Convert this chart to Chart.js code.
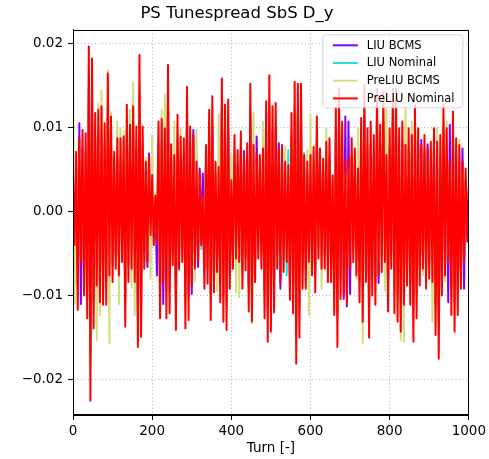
<!DOCTYPE html>
<html><head><meta charset="utf-8">
<script src="https://cdn.jsdelivr.net/npm/chart.js@4/dist/chart.umd.min.js"></script>
<style>html,body{margin:0;padding:0;background:#fff;}</style>
</head><body>
<canvas id="c" width="489" height="459"></canvas>
<script>
// Turn index (every 4th turn sampled)
const turns = Array.from({length: 251}, (_, i) => i * 4);
const seriesNames = ['LIU BCMS', 'LIU Nominal', 'PreLIU BCMS', 'PreLIU Nominal'];
const seriesColors = ['#8000ff', '#2bdddd', '#d4dd80', '#ff0000'];
const yTickValues = [-0.02, -0.01, 0.0, 0.01, 0.02];
const xTickStep = 200;

const liuBcms = [
0.0032,-0.0030,0.0053,-0.0088,0.0105,-0.0110,0.0073,-0.0075,0.0070,-0.0095,0.0147,-0.0169,0.0137,-0.0104,0.0088,-0.0066,0.0091,-0.0081,0.0094,-0.0083,0.0079,-0.0083,0.0123,-0.0057,0.0085,
-0.0063,0.0053,-0.0051,0.0065,-0.0057,0.0065,-0.0045,0.0067,-0.0103,0.0095,-0.0063,0.0077,-0.0051,0.0094,-0.0063,0.0076,-0.0121,0.0140,-0.0112,0.0076,-0.0051,0.0044,-0.0066,0.0069,-0.0021,
0.0032,-0.0030,0.0014,-0.0076,0.0080,-0.0095,0.0083,-0.0110,0.0105,-0.0095,0.0131,-0.0091,0.0060,-0.0048,0.0050,-0.0106,0.0086,-0.0051,0.0067,-0.0045,0.0065,-0.0104,0.0111,-0.0097,0.0076,
-0.0098,0.0097,-0.0051,0.0044,-0.0066,0.0051,-0.0030,0.0045,-0.0069,0.0059,-0.0065,0.0091,-0.0097,0.0103,-0.0072,0.0044,-0.0054,0.0040,-0.0081,0.0119,-0.0098,0.0095,-0.0106,0.0100,-0.0069,
0.0028,-0.0051,0.0068,-0.0042,0.0055,-0.0045,0.0071,-0.0069,0.0072,-0.0053,0.0061,-0.0089,0.0114,-0.0098,0.0059,-0.0063,0.0089,-0.0042,0.0050,-0.0051,0.0056,-0.0095,0.0098,-0.0116,0.0122,
-0.0107,0.0094,-0.0090,0.0097,-0.0051,0.0081,-0.0092,0.0059,-0.0054,0.0044,-0.0045,0.0041,-0.0079,0.0088,-0.0091,0.0116,-0.0136,0.0114,-0.0113,0.0114,-0.0069,0.0050,-0.0069,0.0044,-0.0045,
0.0050,-0.0057,0.0058,-0.0072,0.0085,-0.0042,0.0056,-0.0051,0.0047,-0.0051,0.0062,-0.0063,0.0065,-0.0063,0.0032,-0.0092,0.0092,-0.0121,0.0110,-0.0078,0.0080,-0.0104,0.0113,-0.0113,0.0107,
-0.0098,0.0065,-0.0045,0.0056,-0.0057,0.0038,-0.0081,0.0083,-0.0098,0.0113,-0.0063,0.0074,-0.0113,0.0080,-0.0075,0.0068,-0.0083,0.0110,-0.0085,0.0077,-0.0054,0.0107,-0.0045,0.0050,-0.0089,
0.0074,-0.0051,0.0110,-0.0091,0.0110,-0.0098,0.0074,-0.0107,0.0080,-0.0083,0.0059,-0.0066,0.0074,-0.0083,0.0068,-0.0116,0.0095,-0.0095,0.0074,-0.0066,0.0085,-0.0051,0.0068,-0.0069,0.0080,
-0.0060,0.0062,-0.0063,0.0074,-0.0110,0.0062,-0.0131,0.0068,-0.0075,0.0095,-0.0057,0.0074,-0.0108,0.0103,-0.0092,0.0089,-0.0107,0.0065,-0.0092,0.0059,-0.0069,0.0075,-0.0092,0.0038,-0.0027,
0.0023];

const liuNominal = [
0.0030,-0.0028,0.0050,-0.0082,0.0061,-0.0042,0.0068,-0.0070,0.0065,-0.0089,0.0137,-0.0158,0.0127,-0.0097,0.0082,-0.0062,0.0085,-0.0076,0.0088,-0.0078,0.0074,-0.0078,0.0115,-0.0053,0.0079,
-0.0059,0.0050,-0.0048,0.0061,-0.0053,0.0061,-0.0042,0.0062,-0.0096,0.0089,-0.0059,0.0072,-0.0048,0.0088,-0.0059,0.0071,-0.0113,0.0130,-0.0104,0.0071,-0.0048,0.0041,-0.0042,0.0046,-0.0020,
0.0030,-0.0028,0.0013,-0.0025,0.0075,-0.0089,0.0077,-0.0059,0.0069,-0.0089,0.0122,-0.0085,0.0056,-0.0045,0.0047,-0.0099,0.0081,-0.0070,0.0062,-0.0042,0.0061,-0.0097,0.0104,-0.0090,0.0071,
-0.0062,0.0064,-0.0048,0.0068,-0.0042,0.0033,-0.0045,0.0013,-0.0064,0.0055,-0.0060,0.0085,-0.0090,0.0096,-0.0067,0.0041,-0.0050,0.0037,-0.0076,0.0111,-0.0092,0.0089,-0.0099,0.0093,-0.0064,
0.0026,-0.0048,0.0064,-0.0039,0.0051,-0.0042,0.0067,-0.0064,0.0047,-0.0049,0.0057,-0.0083,0.0106,-0.0092,0.0055,-0.0059,0.0048,-0.0039,0.0047,-0.0048,0.0053,-0.0089,0.0092,-0.0109,0.0113,
-0.0100,0.0088,-0.0084,0.0090,-0.0048,0.0053,-0.0059,0.0055,-0.0050,0.0041,-0.0076,0.0073,-0.0074,0.0082,-0.0085,0.0108,-0.0127,0.0106,-0.0105,0.0106,-0.0064,0.0070,-0.0064,0.0041,-0.0042,
0.0047,-0.0053,0.0054,-0.0067,0.0079,-0.0039,0.0053,-0.0048,0.0044,-0.0048,0.0058,-0.0059,0.0061,-0.0059,0.0030,-0.0086,0.0086,-0.0113,0.0102,-0.0073,0.0075,-0.0070,0.0041,-0.0076,0.0046,
-0.0048,0.0061,-0.0042,0.0053,-0.0053,0.0036,-0.0076,0.0078,-0.0092,0.0105,-0.0059,0.0069,-0.0105,0.0075,-0.0070,0.0064,-0.0078,0.0102,-0.0053,0.0072,-0.0050,0.0100,-0.0042,0.0047,-0.0083,
0.0069,-0.0048,0.0102,-0.0085,0.0102,-0.0092,0.0069,-0.0100,0.0075,-0.0078,0.0085,-0.0062,0.0069,-0.0078,0.0064,-0.0109,0.0089,-0.0089,0.0069,-0.0062,0.0055,-0.0048,0.0064,-0.0064,0.0053,
-0.0056,0.0058,-0.0059,0.0069,-0.0103,0.0058,-0.0123,0.0064,-0.0070,0.0089,-0.0053,0.0069,-0.0042,0.0041,-0.0086,0.0083,-0.0100,0.0061,-0.0086,0.0055,-0.0064,0.0041,-0.0042,0.0036,-0.0025,
0.0022];

const preLiuBcms = [
0.0186,-0.0109,0.0057,-0.0094,0.0070,-0.0048,0.0078,-0.0080,0.0074,-0.0102,0.0157,-0.0180,0.0146,-0.0111,0.0094,-0.0153,0.0128,-0.0123,0.0144,-0.0089,0.0084,-0.0089,0.0168,-0.0157,0.0118,
-0.0067,0.0057,-0.0054,0.0107,-0.0110,0.0099,-0.0048,0.0095,-0.0110,0.0102,-0.0067,0.0121,-0.0090,0.0154,-0.0123,0.0081,-0.0129,0.0149,-0.0119,0.0081,-0.0054,0.0064,-0.0048,0.0052,-0.0080,
0.0091,-0.0032,0.0015,-0.0029,0.0086,-0.0102,0.0121,-0.0067,0.0139,-0.0102,0.0139,-0.0097,0.0064,-0.0051,0.0107,-0.0113,0.0092,-0.0054,0.0099,-0.0048,0.0070,-0.0111,0.0118,-0.0103,0.0081,
-0.0070,0.0073,-0.0084,0.0097,-0.0048,0.0038,-0.0032,0.0015,-0.0074,0.0063,-0.0069,0.0097,-0.0103,0.0110,-0.0077,0.0047,-0.0094,0.0115,-0.0086,0.0126,-0.0105,0.0102,-0.0113,0.0106,-0.0074,
0.0067,-0.0054,0.0073,-0.0096,0.0058,-0.0102,0.0076,-0.0074,0.0054,-0.0056,0.0065,-0.0095,0.0122,-0.0133,0.0117,-0.0067,0.0055,-0.0045,0.0054,-0.0054,0.0107,-0.0102,0.0105,-0.0124,0.0130,
-0.0114,0.0100,-0.0096,0.0103,-0.0054,0.0060,-0.0067,0.0063,-0.0058,0.0077,-0.0048,0.0044,-0.0084,0.0094,-0.0097,0.0123,-0.0145,0.0122,-0.0120,0.0122,-0.0074,0.0054,-0.0074,0.0073,-0.0123,
0.0115,-0.0061,0.0062,-0.0077,0.0090,-0.0045,0.0060,-0.0092,0.0050,-0.0054,0.0099,-0.0072,0.0070,-0.0067,0.0034,-0.0098,0.0098,-0.0129,0.0117,-0.0083,0.0086,-0.0080,0.0047,-0.0086,0.0052,
-0.0054,0.0070,-0.0048,0.0060,-0.0080,0.0099,-0.0086,0.0089,-0.0157,0.0120,-0.0067,0.0079,-0.0120,0.0086,-0.0080,0.0073,-0.0089,0.0117,-0.0061,0.0082,-0.0058,0.0114,-0.0094,0.0125,-0.0095,
0.0079,-0.0054,0.0117,-0.0097,0.0117,-0.0105,0.0079,-0.0153,0.0086,-0.0155,0.0127,-0.0070,0.0079,-0.0089,0.0107,-0.0124,0.0102,-0.0102,0.0079,-0.0070,0.0063,-0.0076,0.0073,-0.0074,0.0060,
-0.0064,0.0066,-0.0131,0.0079,-0.0118,0.0099,-0.0140,0.0073,-0.0080,0.0102,-0.0084,0.0107,-0.0048,0.0047,-0.0098,0.0095,-0.0114,0.0070,-0.0098,0.0085,-0.0074,0.0047,-0.0048,0.0041,-0.0029,
0.0025];

const preLiuNominal = [
0.0043,-0.0040,0.0071,-0.0117,0.0087,-0.0060,0.0097,-0.0100,0.0093,-0.0127,0.0196,-0.0225,0.0182,-0.0139,0.0117,-0.0088,0.0121,-0.0108,0.0125,-0.0111,0.0105,-0.0111,0.0164,-0.0076,0.0113,
-0.0084,0.0071,-0.0068,0.0087,-0.0076,0.0087,-0.0060,0.0089,-0.0137,0.0127,-0.0084,0.0103,-0.0068,0.0125,-0.0084,0.0101,-0.0161,0.0186,-0.0149,0.0101,-0.0068,0.0059,-0.0060,0.0065,-0.0028,
0.0043,-0.0040,0.0019,-0.0036,0.0107,-0.0127,0.0110,-0.0084,0.0099,-0.0127,0.0174,-0.0121,0.0080,-0.0064,0.0067,-0.0141,0.0115,-0.0068,0.0089,-0.0060,0.0087,-0.0139,0.0148,-0.0129,0.0101,
-0.0088,0.0091,-0.0068,0.0059,-0.0060,0.0047,-0.0040,0.0019,-0.0092,0.0079,-0.0086,0.0121,-0.0129,0.0137,-0.0096,0.0059,-0.0072,0.0053,-0.0108,0.0158,-0.0131,0.0127,-0.0141,0.0133,-0.0092,
0.0037,-0.0068,0.0091,-0.0056,0.0073,-0.0060,0.0095,-0.0092,0.0067,-0.0070,0.0081,-0.0119,0.0152,-0.0131,0.0079,-0.0084,0.0069,-0.0056,0.0067,-0.0068,0.0075,-0.0127,0.0131,-0.0155,0.0162,
-0.0143,0.0125,-0.0120,0.0129,-0.0068,0.0075,-0.0084,0.0079,-0.0072,0.0059,-0.0060,0.0055,-0.0105,0.0117,-0.0121,0.0154,-0.0181,0.0152,-0.0150,0.0152,-0.0092,0.0067,-0.0092,0.0059,-0.0060,
0.0067,-0.0076,0.0077,-0.0096,0.0113,-0.0056,0.0075,-0.0068,0.0063,-0.0068,0.0083,-0.0084,0.0087,-0.0084,0.0043,-0.0123,0.0123,-0.0161,0.0146,-0.0104,0.0107,-0.0100,0.0059,-0.0108,0.0065,
-0.0068,0.0087,-0.0060,0.0075,-0.0076,0.0051,-0.0108,0.0111,-0.0131,0.0150,-0.0084,0.0099,-0.0150,0.0107,-0.0100,0.0091,-0.0111,0.0146,-0.0076,0.0103,-0.0072,0.0143,-0.0060,0.0067,-0.0119,
0.0099,-0.0068,0.0146,-0.0121,0.0146,-0.0131,0.0099,-0.0143,0.0107,-0.0111,0.0079,-0.0088,0.0099,-0.0111,0.0091,-0.0155,0.0127,-0.0127,0.0099,-0.0088,0.0079,-0.0068,0.0091,-0.0092,0.0075,
-0.0080,0.0083,-0.0084,0.0099,-0.0147,0.0083,-0.0175,0.0091,-0.0100,0.0127,-0.0076,0.0099,-0.0060,0.0059,-0.0123,0.0119,-0.0143,0.0087,-0.0123,0.0079,-0.0092,0.0059,-0.0060,0.0051,-0.0036,
0.0031];

const FONT = "'DejaVu Sans', sans-serif";
const seriesData = [liuBcms, liuNominal, preLiuBcms, preLiuNominal];

const frameLegend = {
  id: 'frameLegend',
  afterDatasetsDraw(chart) {
    const ctx = chart.ctx, a = chart.chartArea;
    ctx.save();
    ctx.strokeStyle = '#000';
    ctx.lineWidth = 1;
    ctx.strokeRect(Math.round(a.left) + 0.5, Math.round(a.top) + 0.5,
                   Math.round(a.right - a.left) - 1, Math.round(a.bottom - a.top) - 1);
    const bx = a.right - 146, by = a.top + 5, bw = 140, bh = 73, r = 3;
    ctx.beginPath();
    ctx.moveTo(bx + r, by);
    ctx.lineTo(bx + bw - r, by); ctx.quadraticCurveTo(bx + bw, by, bx + bw, by + r);
    ctx.lineTo(bx + bw, by + bh - r); ctx.quadraticCurveTo(bx + bw, by + bh, bx + bw - r, by + bh);
    ctx.lineTo(bx + r, by + bh); ctx.quadraticCurveTo(bx, by + bh, bx, by + bh - r);
    ctx.lineTo(bx, by + r); ctx.quadraticCurveTo(bx, by, bx + r, by);
    ctx.closePath();
    ctx.fillStyle = 'rgba(255,255,255,0.8)';
    ctx.fill();
    ctx.strokeStyle = 'rgba(204,204,204,0.8)';
    ctx.lineWidth = 1;
    ctx.stroke();
    ctx.font = '11.5px ' + FONT;
    ctx.textBaseline = 'middle';
    ctx.textAlign = 'left';
    chart.data.datasets.forEach((ds, i) => {
      const yy = by + 10.5 + i * 17.7;
      ctx.strokeStyle = ds.borderColor;
      ctx.lineWidth = 2;
      ctx.beginPath();
      ctx.moveTo(bx + 10, yy); ctx.lineTo(bx + 35, yy);
      ctx.stroke();
      ctx.fillStyle = '#000';
      ctx.fillText(ds.label, bx + 44, yy + 0.5);
    });
    ctx.restore();
  }
};

new Chart(document.getElementById('c'), {
  type: 'line',
  data: {
    labels: turns,
    datasets: seriesNames.map((name, i) => ({
      label: name,
      data: seriesData[i],
      borderColor: seriesColors[i],
      backgroundColor: seriesColors[i],
      borderWidth: 2,
      pointRadius: 0,
      tension: 0,
      fill: false,
      borderJoinStyle: 'round',
      borderCapStyle: 'butt',
      order: 4 - i
    }))
  },
  options: {
    responsive: false,
    animation: false,
    devicePixelRatio: 1,
    events: [],
    layout: { padding: { left: 0, right: 15, top: 0, bottom: 0 } },
    plugins: {
      legend: { display: false },
      tooltip: { enabled: false },
      title: {
        display: true,
        text: 'PS Tunespread SbS D_y',
        color: '#000',
        font: { family: FONT, size: 16.5, weight: 'normal', lineHeight: 1.2 },
        padding: { top: 4, bottom: 6 }
      }
    },
    scales: {
      x: {
        type: 'linear',
        min: 0, max: 1000,
        ticks: { stepSize: xTickStep, color: '#000', font: { family: FONT, size: 13.5 }, padding: 3, maxRotation: 0,
                 callback: v => String(v) },
        grid: { color: '#b0b0b0', lineWidth: 1, tickLength: 5, tickColor: '#000' },
        border: { display: true, color: '#000', width: 1, dash: [1, 2.5] },
        title: { display: true, text: 'Turn [-]', color: '#000', font: { family: FONT, size: 13.5 }, padding: { top: 0, bottom: 2 } },
        afterFit(s) { s.height = 44; }
      },
      y: {
        type: 'linear',
        min: -0.0242, max: 0.0216,
        afterBuildTicks(s) { s.ticks = yTickValues.map(v => ({ value: v })); },
        ticks: {
          color: '#000', font: { family: FONT, size: 13.5 }, padding: 5,
          callback: v => (v < 0 ? '\u2212' : '') + Math.abs(v).toFixed(2)
        },
        grid: { color: '#b0b0b0', lineWidth: 1, tickLength: 5, tickColor: '#000' },
        border: { display: true, color: '#000', width: 1, dash: [1, 2.5] },
        afterFit(s) { s.width = 73; }
      }
    }
  },
  plugins: [frameLegend]
});
</script>
</body></html>
